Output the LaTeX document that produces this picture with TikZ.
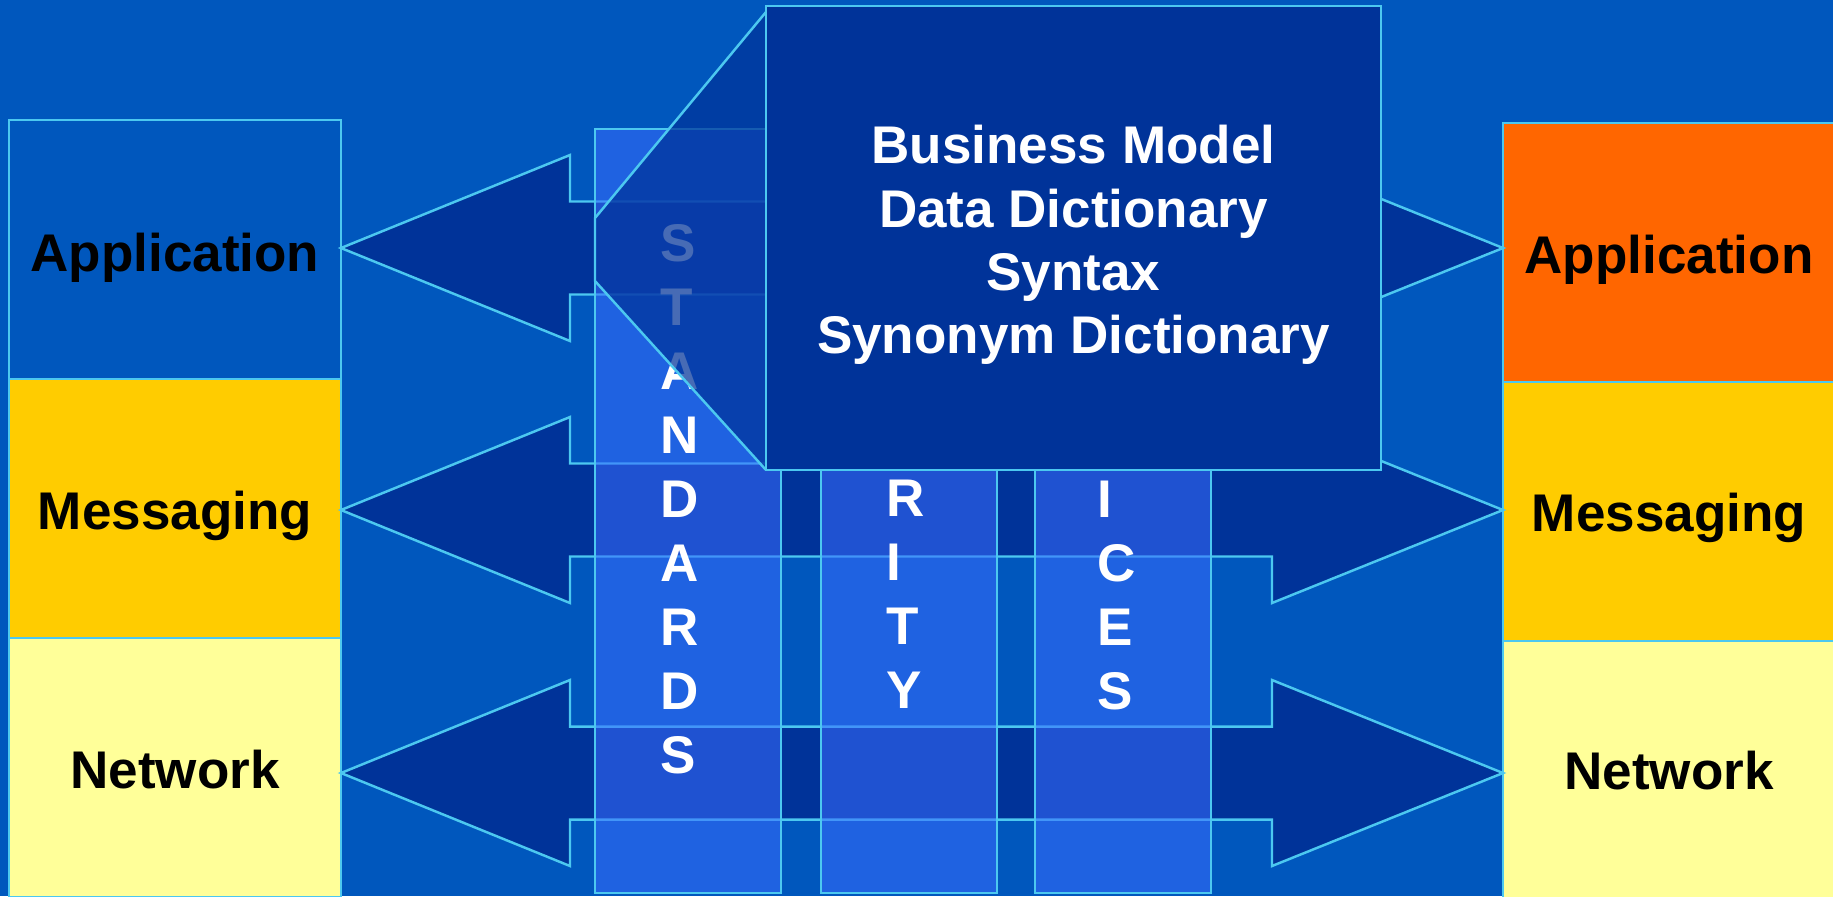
\documentclass[tikz,border=0pt]{standalone}
\usepackage{fontspec}
\setmainfont{Liberation Sans}
\definecolor{bgblue}{HTML}{0057BD}
\definecolor{navy}{HTML}{003399}
\definecolor{edgec}{HTML}{4CC8F0}
\definecolor{colfill}{HTML}{3A6CFF}
\definecolor{orng}{HTML}{FF6600}
\definecolor{yel}{HTML}{FFCC00}
\definecolor{lyel}{HTML}{FFFF99}
\begin{document}
\begin{tikzpicture}[x=0.01cm,y=-0.01cm,
  outl/.style={draw=edgec,line width=0.7pt},
  layerbox/.style={outl,minimum width=3.32cm,minimum height=2.59cm,inner sep=0pt,outer sep=0pt},
  lbl/.style={font=\fontsize{15.08}{18}\selectfont\bfseries,inner sep=0pt,anchor=base},
  boxtext/.style={lbl,text=white},
  colletter/.style={font=\fontsize{15.08}{18}\selectfont\bfseries,inner sep=0pt,anchor=base west,text=white},
  arrowshape/.style={outl,fill=navy,line join=miter},
  colbox/.style={draw=edgec,line width=0.7pt,fill=colfill,fill opacity=0.55,minimum height=7.64cm,inner sep=0pt,outer sep=0pt},
  pointer/.style={outl,fill=navy,fill opacity=0.72}]
\useasboundingbox (0,0) rectangle (1833,896);
\clip (0,0) rectangle (1833,896);
\fill[bgblue] (0,0) rectangle (1833,896);

% left stack
\node[layerbox,fill=bgblue] (lapp) at (175,249.5) {};
\node[layerbox,fill=yel] (lmsg) at (175,508.5) {};
\node[layerbox,fill=lyel] (lnet) at (175,767.5) {};
\node[lbl] (lappt) at (175,271) {Application};
\node[lbl] (lmsgt) at (175,529) {Messaging};
\node[lbl] (lnett) at (175,788) {Network};

% right stack
\node[layerbox,fill=orng] (rapp) at (1669,252.5) {};
\node[layerbox,fill=yel] (rmsg) at (1669,511.5) {};
\node[layerbox,fill=lyel] (rnet) at (1669,770.5) {};
\node[lbl] (rappt) at (1669,273) {Application};
\node[lbl] (rmsgt) at (1669,531) {Messaging};
\node[lbl] (rnett) at (1669,789) {Network};

% double arrows
\foreach \c/\n in {248/app,510/msg,773/net}{
  \coordinate (L\n) at (341,\c);
  \coordinate (R\n) at (1503,\c);
  \draw[arrowshape] (L\n) -- ++(229,-93) -- ++(0,46.5) -- ++(702,0) -- ++(0,-46.5)
     -- (R\n) -- ++(-231,93) -- ++(0,-46.5) -- ++(-702,0) -- ++(0,46.5) -- cycle;
}

% columns
\node[colbox,minimum width=1.86cm] (stdcol) at (688,511) {};
\node[colbox,minimum width=1.76cm] (seccol) at (909,511) {};
\node[colbox,minimum width=1.76cm] (srvcol) at (1123,511) {};

\foreach \ch [count=\i from 0] in {S,T,A,N,D,A,R,D,S}
  \node[colletter] (std\i) at (660,261+64*\i) {\ch};
\foreach \ch [count=\i from 0] in {R,I,T,Y}
  \node[colletter] (sec\i) at (886,516+64*\i) {\ch};
\foreach \ch [count=\i from 0] in {I,C,E,S}
  \node[colletter] (srv\i) at (1097,517+64*\i) {\ch};

% callout pointer and box
\path[pointer] (766,12) -- (595,218) -- (595,281) -- (766,470);
\node[outl,fill=navy,minimum width=6.15cm,minimum height=4.64cm,inner sep=0pt,outer sep=0pt] (bm) at (1073.5,238) {};
\node[boxtext] (bm1) at (1073.5,163) {Business Model};
\node[boxtext] (bm2) at (1073.5,227) {Data Dictionary};
\node[boxtext] (bm3) at (1073.5,290) {Syntax};
\node[boxtext] (bm4) at (1073.5,353) {Synonym Dictionary};
\end{tikzpicture}
\end{document}
